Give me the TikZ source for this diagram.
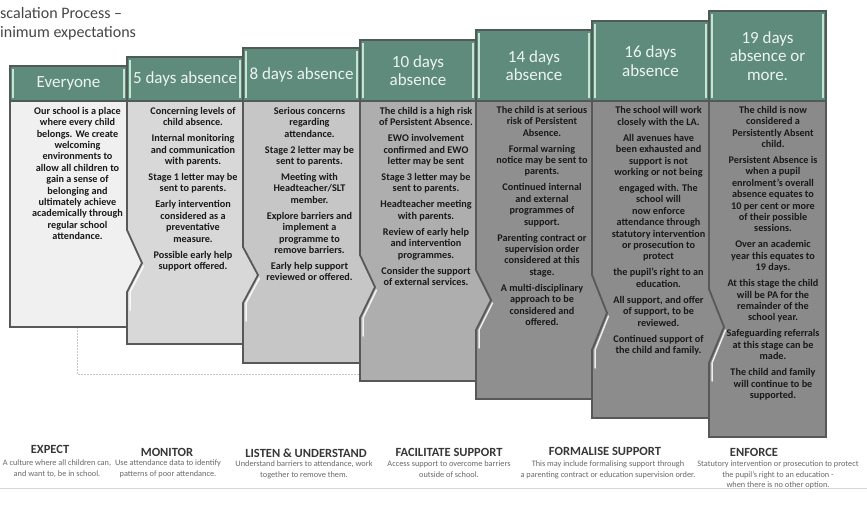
\documentclass[tikz,border=0pt]{standalone}
\usepackage{fontspec}
\setmainfont{Carlito}
\usetikzlibrary{calc}
\definecolor{hdr}{RGB}{95,139,125}
\definecolor{hdrbord}{RGB}{80,90,86}
\definecolor{hdrtext}{RGB}{236,244,240}
\definecolor{stripecol}{RGB}{196,228,212}
\definecolor{bord}{RGB}{88,88,88}
\definecolor{cA}{RGB}{240,240,240}
\definecolor{cB}{RGB}{216,216,216}
\definecolor{cC}{RGB}{198,198,198}
\definecolor{cD}{RGB}{174,174,174}
\definecolor{cE}{RGB}{143,143,143}
\definecolor{cF}{RGB}{140,140,140}
\definecolor{cG}{RGB}{138,138,138}
\definecolor{titlegray}{RGB}{70,70,70}
\definecolor{bodyink}{RGB}{25,25,25}
\definecolor{colLegHead}{RGB}{55,55,55}
\definecolor{colLegSub}{RGB}{105,105,105}
\definecolor{dotgray}{RGB}{200,200,200}
\definecolor{rulegray}{RGB}{215,215,215}
\begin{document}
\begin{tikzpicture}[x=1pt,y=-1pt,
  bodybox/.style={draw=bord, line width=1.8pt},
  hdrbox/.style={draw=hdrbord, fill=hdr, line width=1.2pt, text=hdrtext, font=\fontsize{17}{18.5}\selectfont, align=center, inner sep=0pt, outer sep=0pt, anchor=south west},
  stripeline/.style={draw=stripecol, line width=1.6pt},
  bevel/.style={draw=white, line width=1.5pt, opacity=.85, line cap=round},
  bodytext/.style={text=bodyink, font=\fontsize{10.2}{11.4}\selectfont\bfseries, align=center, inner sep=0pt, anchor=north},
  titletext/.style={text=titlegray, font=\fontsize{16}{18}\selectfont, anchor=west, inner sep=0pt},
  leghead/.style={text=colLegHead, font=\fontsize{12.5}{14}\selectfont\bfseries, inner sep=0pt},
  legsub/.style={text=colLegSub, font=\fontsize{8.3}{10.6}\selectfont, align=center, inner sep=0pt, anchor=north},
  dotline/.style={draw=dotgray, line width=0.8pt, dash pattern=on 1.5pt off 1.5pt},
]
\useasboundingbox[fill=white] (0,0) rectangle (867,508);

% title
\node[titletext] (t1) at (0,13) {scalation Process –};
\node[titletext] (t2) at (0,33) {inimum expectations};

% dotted guide
\coordinate (d0) at (77,327);
\coordinate (d1) at (77,374);
\coordinate (d2) at (360,374);
\draw[dotline] (d0) -- (d1) -- (d2);

% bodies, right to left
\draw[bodybox, fill=cG] (709,101) rectangle (826,437);
\draw[bodybox, fill=cF] (592,101) -- (709,101) -- (709,289) -- (724,327) -- (709,363) -- (709,418) -- (592,418) -- cycle;
\draw[bodybox, fill=cE] (476,101) -- (592,101) -- (592,275) -- (607,313) -- (592,350) -- (592,399) -- (476,399) -- cycle;
\draw[bodybox, fill=cD] (360,101) -- (476,101) -- (476,270) -- (491,300) -- (476,330) -- (476,381) -- (360,381) -- cycle;
\draw[bodybox, fill=cC] (243,101) -- (360,101) -- (360,255) -- (375,287) -- (360,318) -- (360,363) -- (243,363) -- cycle;
\draw[bodybox, fill=cB] (127,101) -- (243,101) -- (243,247) -- (258,275) -- (243,303) -- (243,344) -- (127,344) -- cycle;
\draw[bodybox, fill=cA] (10,101) -- (127,101) -- (127,230) -- (142,263) -- (127,292) -- (127,327) -- (10,327) -- cycle;

% bevel highlights
\draw[bevel] (143.5,266) -- (130,292) -- (130,310);
\draw[bevel] (259.5,278) -- (246,303) -- (246,321);
\draw[bevel] (376.5,290) -- (363,318) -- (363,336);
\draw[bevel] (492.5,303) -- (479,330) -- (479,348);
\draw[bevel] (608.5,316) -- (595,350) -- (595,368);
\draw[bevel] (725.5,330) -- (712,363) -- (712,381);

% headers
\node[hdrbox, minimum width=117pt, minimum height=35pt] (h1) at (10,101) {Everyone};
\node[hdrbox, minimum width=116pt, minimum height=44pt] (h2) at (127,101) {5 days absence};
\node[hdrbox, minimum width=117pt, minimum height=53pt] (h3) at (243,101) {8 days absence};
\node[hdrbox, minimum width=116pt, minimum height=61pt] (h4) at (360,101) {10 days\\absence};
\node[hdrbox, minimum width=116pt, minimum height=71pt] (h5) at (476,101) {14 days\\absence};
\node[hdrbox, minimum width=117pt, minimum height=80pt] (h6) at (592,101) {16 days\\absence};
\node[hdrbox, minimum width=117pt, minimum height=90pt] (h7) at (709,101) {19 days\\absence or\\more.};
\foreach \h in {h1,h2,h3,h4,h5,h6,h7}{
  \draw[stripeline] ($(\h.north west)+(3,3)$) -- ($(\h.south west)+(3,-3)$);
  \draw[stripeline] ($(\h.north east)+(-3,3)$) -- ($(\h.south east)+(-3,-3)$);
}

% body texts
\node[bodytext] (b1) at (77.5,107) {Our school is a place\\where every child\\belongs.  We create\\welcoming\\environments to\\allow all children to\\gain a sense of\\belonging and\\ultimately achieve\\academically through\\regular school\\attendance.};
\node[bodytext] (b2) at (193,107) {Concerning levels of\\child absence.\\[4.6pt]Internal monitoring\\and communication\\with parents.\\[4.6pt]Stage 1 letter may be\\sent to parents.\\[4.6pt]Early intervention\\considered as a\\preventative\\measure.\\[4.6pt]Possible early help\\support offered.};
\node[bodytext] (b3) at (309.5,107) {Serious concerns\\regarding\\attendance.\\[4.6pt]Stage 2 letter may be\\sent to parents.\\[4.6pt]Meeting with\\Headteacher/SLT\\member.\\[4.6pt]Explore barriers and\\implement a\\programme to\\remove barriers.\\[4.6pt]Early help support\\reviewed or offered.};
\node[bodytext] (b4) at (426,107) {The child is a high risk\\of Persistent Absence.\\[4.6pt]EWO involvement\\confirmed and EWO\\letter may be sent\\[4.6pt]Stage 3 letter may be\\sent to parents.\\[4.6pt]Headteacher meeting\\with parents.\\[4.6pt]Review of early help\\and intervention\\programmes.\\[4.6pt]Consider the support\\of external services.};
\node[bodytext] (b5) at (542,106) {The child is at serious\\risk of Persistent\\Absence.\\[4.6pt]Formal warning\\notice may be sent to\\parents.\\[4.6pt]Continued internal\\and external\\programmes of\\support.\\[4.6pt]Parenting contract or\\supervision order\\considered at this\\stage.\\[4.6pt]A multi-disciplinary\\approach to be\\considered and\\offered.};
\node[bodytext] (b6) at (658.5,106.5) {The school will work\\closely with the LA.\\[4.6pt]All avenues have\\been exhausted and\\support is not\\working or not being\\[4.6pt]engaged with.  The\\school will\\now  enforce\\attendance through\\statutory intervention\\or prosecution to\\protect\\[4.6pt]the pupil's right to an\\education.\\[4.6pt]All support, and offer\\of support, to be\\reviewed.\\[4.6pt]Continued support of\\the child and family.};
\node[bodytext] (b7) at (773,106) {The child is now\\considered a\\Persistently Absent\\child.\\[4.6pt]Persistent Absence is\\when a pupil\\enrolment's overall\\absence equates to\\10 per cent or more\\of their possible\\sessions.\\[4.6pt]Over an academic\\year this equates to\\19 days.\\[4.6pt]At this stage the child\\will be PA for the\\remainder of the\\school year.\\[4.6pt]Safeguarding referrals\\at this stage can be\\made.\\[4.6pt]The child and family\\will continue to be\\supported.};

% legend
\coordinate (r0) at (0,488);
\coordinate (r1) at (867,488);
\draw[draw=rulegray, line width=0.8pt] (r0) -- (r1);
\node[leghead] (e1) at (50,449) {EXPECT};
\node[legsub] (e1s) at (57,460) {A culture where all children can,\\and want to, be in school.};
\node[leghead] (e2) at (167,452.5) {MONITOR};
\node[legsub] (e2s) at (168,460) {Use attendance data to identify\\patterns of poor attendance.};
\node[leghead] (e3) at (306,453) {LISTEN \& UNDERSTAND};
\node[legsub] (e3s) at (304,460.5) {Understand barriers to attendance, work\\together to remove them.};
\node[leghead] (e4) at (449,452.5) {FACILITATE SUPPORT};
\node[legsub] (e4s) at (449,461) {Access support to overcome barriers\\outside of school.};
\node[leghead] (e5) at (605,451) {FORMALISE SUPPORT};
\node[legsub] (e5s) at (608,460.5) {This may include formalising support through\\a parenting contract or education supervision order.};
\node[leghead] (e6) at (754,452) {ENFORCE};
\node[legsub] (e6s) at (778,460.5) {Statutory intervention or prosecution to protect\\the pupil's right to an education -\\when there is no other option.};
\end{tikzpicture}
\end{document}
